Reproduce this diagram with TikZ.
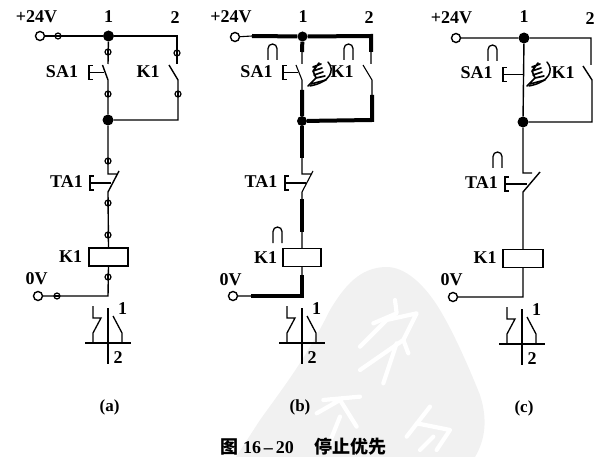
\documentclass[tikz,border=0pt]{standalone}
\usepackage{fontspec}
\setmainfont{Liberation Serif}
\newfontfamily\cjkbold{Noto Sans CJK SC}
\definecolor{wm}{gray}{0.945}
\tikzset{
 wire/.style={line width=1.4pt,line join=miter},
 hot/.style={line width=4pt,line cap=butt,line join=miter},
 jn/.style={circle,fill=black,inner sep=0pt,minimum size=11pt},
 term/.style={circle,draw,line width=1.4pt,fill=white,inner sep=0pt,minimum size=9pt},
 tp/.style={circle,draw,line width=1.2pt,fill=white,inner sep=0pt,minimum size=6pt},
 lab/.style={font=\bfseries\fontsize{18}{18}\selectfont,inner sep=0pt},
 sub/.style={font=\bfseries\fontsize{17}{17}\selectfont,inner sep=0pt},
 wmline/.style={white,line width=4.2pt,line cap=round,line join=round},
 hook/.pic={\draw[line width=1.3pt] (0,16) -- (0,4.5) arc[start angle=180,end angle=360,radius=4.5] -- (9,16);},
 hand/.pic={
  \draw[line width=1.5pt,line cap=round] (20,0) .. controls (27,8) and (23,20) .. (2,24);
  \draw[line width=1.7pt,line cap=round,line join=round] (0,24) -- (8,16) -- (5,9) -- (11,1) (5,5) -- (13,2) (5,9) -- (14,6) (6,13) -- (15,10) (8,16) -- (17,14) (3,22) -- (18,18);
 },
 sym/.pic={
  \draw[line width=1.3pt] (-15,-37) -- (-15,-25) -- (-7,-25) -- (-15,-10) -- (-15,0);
  \draw[line width=1.3pt] (5,-27) -- (14,-10) -- (14,0);
  \draw[line width=1.2pt] (0,-35) -- (0,21) (-23,0) -- (23,0);
  \node[lab] (-one) at (14.5,-34) {1};
  \node[lab] (-two) at (10,15) {2};
 },
 btn/.pic={\draw[line width=1.3pt] (3.5,-7) -- (0,-7) -- (0,7) -- (3.5,7) (0,0) -- (#1,0);},
}
\begin{document}
\begin{tikzpicture}[x=1pt,y=-1pt]
\useasboundingbox (0,0) rectangle (610,457);
% background stamp
\fill[wm] (236,457) -- (260,420) .. controls (285,385) and (305,360) .. (330,310)
 .. controls (345,285) and (360,268) .. (385,267) .. controls (405,266) and (425,285) .. (440,310)
 .. controls (455,335) and (470,370) .. (480,395) .. controls (488,420) and (485,440) .. (475,457) -- cycle;
\begin{scope}[shift={(260,250)},x=0.3333pt,y=-0.3333pt]
 \draw[wmline] (405,150) -- (410,190) -- (340,220);
 \draw[wmline] (300,290) -- (380,210) -- (470,190) -- (430,270) -- (300,360);
 \draw[wmline] (410,280) -- (370,400) (430,270) -- (445,310);
 \draw[wmline] (190,450) -- (300,440) (170,490) -- (240,450) -- (290,530) (240,500) -- (200,600);
 \draw[wmline] (440,560) -- (510,470) (470,520) -- (570,540) -- (530,600) (480,600) -- (520,560);
\end{scope}

%%%%% (a)
\node[jn] (a1) at (108.5,36) {};
\node[jn] (a3) at (108,120) {};
\node[term] (aT) at (40,36) {};
\node[term] (aZ) at (38,296) {};
\coordinate (aR) at (177,36); \coordinate (aR2) at (178,120);
\coordinate (aS1) at (108,64); \coordinate (aS2) at (108,80); \coordinate (aSb) at (102.5,65);
\coordinate (aK1) at (177,64); \coordinate (aK2) at (178,80); \coordinate (aKb) at (169,65);
\coordinate (aTA1) at (108,174); \coordinate (aTA2) at (118,174); \coordinate (aTAb) at (119,171); \coordinate (aTA3) at (108,192);
\node[draw,wire,minimum width=39pt,minimum height=18pt,inner sep=0pt] (aC) at (108.5,257) {};
\coordinate (aB) at (108,296);
\draw[wire] (aT) -- (a1) -- (aR) -- (aK1);
\draw[wire] (aKb) -- (aK2) -- (aR2) -- (a3);
\draw[wire] (a1) -- (aS1) (aSb) -- (aS2) -- (a3) -- (aTA1) -- (aTA2) (aTAb) -- (aTA3) -- (aC.north);
\draw[wire] (aC.south) -- (aB) -- (aZ);
\foreach \n/\p in {p1/{58,36},p2/{108,52},p3/{177,53},p4/{108,94},p5/{178,94},p6/{108,161},p7/{108,203},p8/{108,235},p9/{108,277},p10/{57,296}}
 \node[tp] (a\n) at (\p) {} ;
\foreach \p in {{58,36},{57,296}} \draw[line width=1.1pt] ([xshift=-3pt]\p) -- ([xshift=3pt]\p);
\foreach \p in {{108,52},{177,53},{108,94},{178,94},{108,161},{108,203},{108,235},{108,277}} \draw[line width=1.1pt] ([yshift=-3pt]\p) -- ([yshift=3pt]\p);
\pic at (89,72.5) {btn=15};
\pic at (90,183) {btn=21};
\pic (asym) at (108,343) {sym};
\node[lab] (al1) at (36.5,17) {+24V};
\node[lab] (al2) at (108.5,17) {1};
\node[lab] (al3) at (175,17.5) {2};
\node[lab] (al4) at (62,72) {SA1};
\node[lab] (al5) at (148,72) {K1};
\node[lab] (al6) at (66.5,182) {TA1};
\node[lab] (al7) at (70.5,257) {K1};
\node[lab] (al8) at (36.5,279) {0V};
\node[sub] (al9) at (109.5,407) {(a)};

%%%%% (b)
\node[jn,minimum size=10pt] (b1) at (302.5,36.5) {};
\node[jn,minimum size=10pt] (b3) at (302,121) {};
\node[term] (bT) at (235,37) {};
\node[term] (bZ) at (233,296) {};
\coordinate (bTh) at (252,36); \coordinate (bR) at (371,36); \coordinate (bRd) at (371,52); \coordinate (bK1) at (371,64);
\coordinate (bKb) at (363,65); \coordinate (bK2) at (372,80); \coordinate (bKd) at (372,95); \coordinate (bR2) at (372,120);
\coordinate (bS0) at (302,52); \coordinate (bS1) at (302,64); \coordinate (bSb) at (296,65); \coordinate (bS2) at (302,80); \coordinate (bS3) at (302,90);
\coordinate (bTAu) at (302,158); \coordinate (bTA1) at (302,174); \coordinate (bTA2) at (312,174); \coordinate (bTAb) at (313,171); \coordinate (bTA3) at (302,192); \coordinate (bTAd) at (302,199); \coordinate (bTAe) at (302,232);
\node[draw,wire,minimum width=38pt,minimum height=17.5pt,inner sep=0pt] (bC) at (302,257.5) {};
\coordinate (bCd) at (302,275); \coordinate (bB) at (302,296); \coordinate (bZh) at (251,296);
\draw[wire,line width=1.1pt] (bT) -- (bTh) (bRd) -- (bK1) (bKb) -- (bK2) -- (bKd) (bS0) -- (bS1) (bSb) -- (bS2) -- (bS3);
\draw[wire,line width=1.1pt] (bTAu) -- (bTA1) -- (bTA2) (bTAb) -- (bTA3) -- (bTAd) (bTAe) -- (bC.north) (bC.south) -- (bCd) (bZh) -- (bZ);
\draw[hot] (bTh) -- (b1) -- (bR) -- (bRd);
\draw[hot] (b1) -- (bS0);
\draw[hot] (bS3) -- (b3) -- (bR2) -- (bKd);
\draw[hot] (b3) -- (bTAu);
\draw[hot] (bTAd) -- (bTAe);
\draw[hot] (bCd) -- (bB) -- (bZh);
\pic at (283,72.5) {btn=15};
\pic at (285,183) {btn=21};
\pic at (268,44) {hook};
\pic at (344,44) {hook};
\pic at (273,227) {hook};
\pic at (308,62) {hand};
\pic (bsym) at (302,343) {sym};
\node[lab] (bl1) at (231,17) {+24V};
\node[lab] (bl2) at (303,17) {1};
\node[lab] (bl3) at (369,18) {2};
\node[lab] (bl4) at (256.5,72) {SA1};
\node[lab] (bl5) at (342,72) {K1};
\node[lab] (bl6) at (261,182) {TA1};
\node[lab] (bl7) at (265.5,258) {K1};
\node[lab] (bl8) at (230.5,280) {0V};
\node[sub] (bl9) at (300,407) {(b)};

%%%%% (c)
\node[jn] (c1) at (524,38) {};
\node[jn] (c3) at (523,122) {};
\node[term] (cT) at (456,38) {};
\node[term] (cZ) at (453,297) {};
\coordinate (cR) at (591,38); \coordinate (cK1) at (591,65); \coordinate (cKb) at (583,66); \coordinate (cK2) at (592,80); \coordinate (cR2) at (592,122);
\coordinate (cTA1) at (523,173); \coordinate (cTA2) at (532,173); \coordinate (cTAb) at (540,172); \coordinate (cTA3) at (523,192);
\node[draw,wire,minimum width=40pt,minimum height=17.5pt,inner sep=0pt] (cC) at (523,258.5) {};
\coordinate (cB) at (523,297);
\draw[wire] (cT) -- (c1) -- (cR) -- (cK1) (cKb) -- (cK2) -- (cR2) -- (c3);
\draw[wire] (c1) -- (c3) -- (cTA1) -- (cTA2) (cTAb) -- (cTA3) -- (cC.north) (cC.south) -- (cB) -- (cZ);
\pic at (503,74.5) {btn=20};
\pic at (505,184) {btn=22};
\pic at (488,45) {hook};
\pic at (493,152) {hook};
\pic at (527,62) {hand};
\pic (csym) at (522,344) {sym};
\node[lab] (cl1) at (451.5,18) {+24V};
\node[lab] (cl2) at (524,17) {1};
\node[lab] (cl3) at (590,19) {2};
\node[lab] (cl4) at (476.5,73) {SA1};
\node[lab] (cl5) at (563,73) {K1};
\node[lab] (cl6) at (481.5,183) {TA1};
\node[lab] (cl7) at (485,258) {K1};
\node[lab] (cl8) at (451.5,280) {0V};
\node[sub] (cl9) at (524,408) {(c)};

%%%%% caption
\node[inner sep=0pt,font=\bfseries\fontsize{18}{18}\selectfont] (cap) at (303,446.5) {{\cjkbold\fontsize{18}{18}\selectfont 图}\hspace{5pt}16\hspace{3pt}–\hspace{3pt}20\hspace{20pt}{\cjkbold\fontsize{18}{18}\selectfont 停止优先}};
\end{tikzpicture}
\end{document}
